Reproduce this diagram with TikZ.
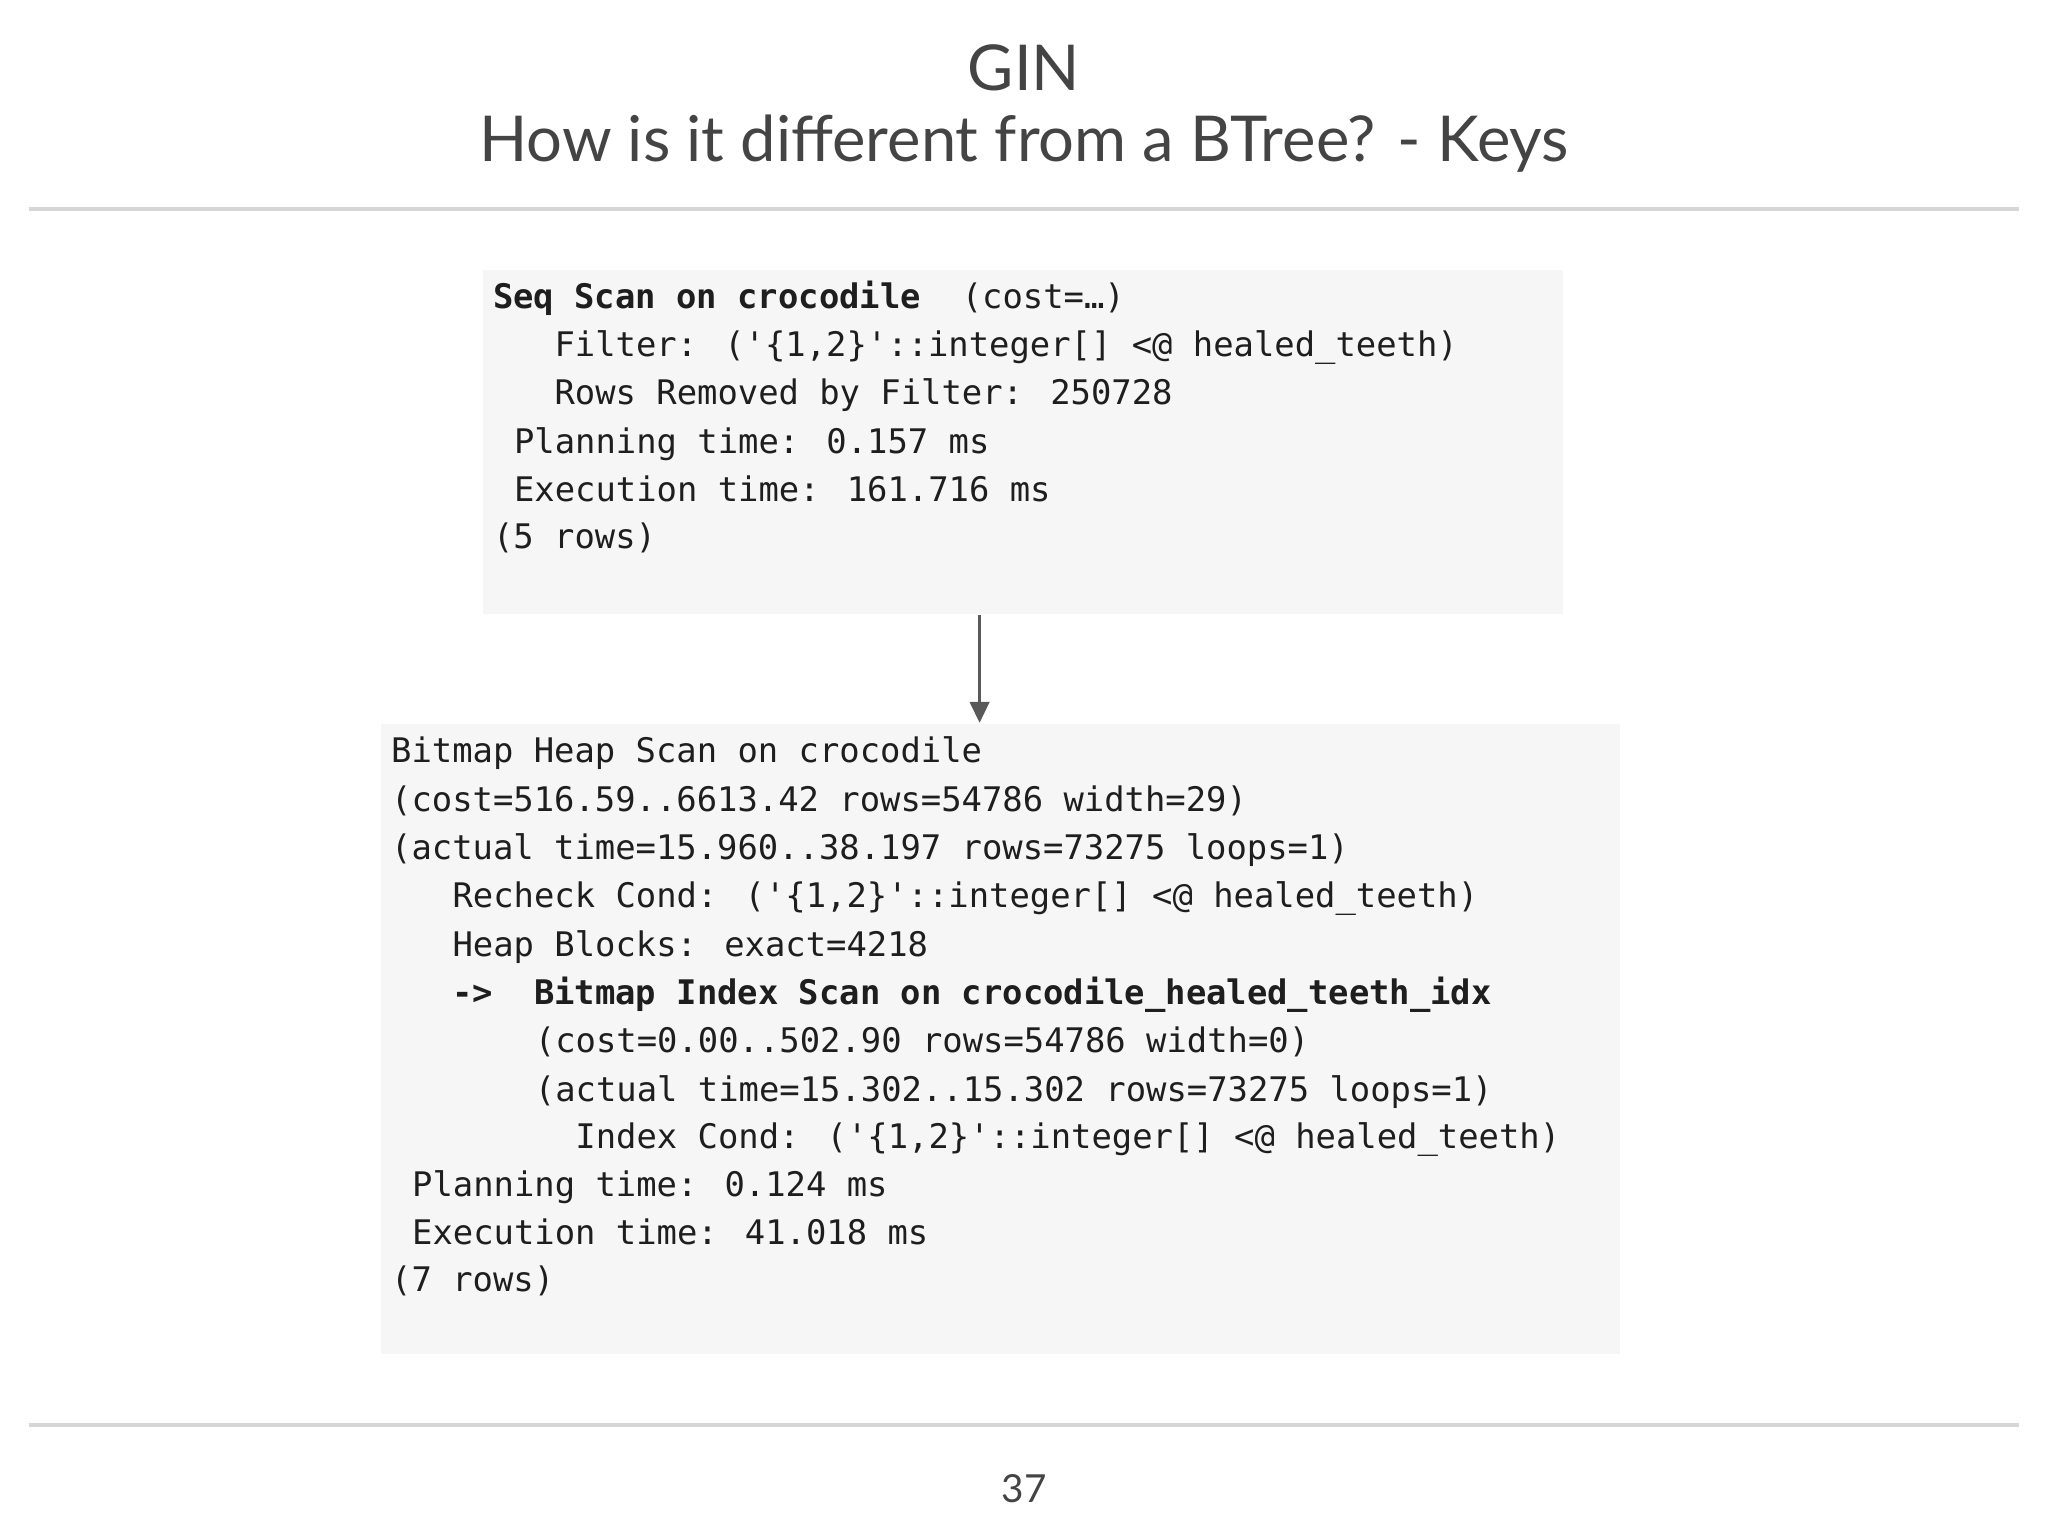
\documentclass[tikz,border=0pt]{standalone}
\usepackage{fontspec}
\setmainfont{Lato}
\newfontfamily\mono{DejaVu Sans Mono}
\usetikzlibrary{fit,arrows.meta}
\definecolor{boxbg}{HTML}{F6F6F6}
\definecolor{rulec}{HTML}{D6D6D6}
\definecolor{titlec}{HTML}{444444}
\definecolor{codec}{HTML}{1E1E1E}
\tikzset{
  box/.style={fill=boxbg,draw=none,inner sep=0pt},
  code/.style={anchor=base west,inner sep=0pt,font=\mono\fontsize{9.63}{11}\selectfont,text=codec},
  rulel/.style={draw=rulec,line width=0.9pt},
  arrowl/.style={draw=black!65,line width=1pt,-{Triangle[length=6pt,width=5.5pt]}}
}
\begin{document}
\begin{tikzpicture}[x=0.01306cm,y=-0.01306cm]
\useasboundingbox[fill=white] (0,0) rectangle (1568,1176);
\node[text=titlec,font=\fontsize{18}{20}\selectfont] (title) at (784,52) {GIN};
\node[text=titlec,font=\fontsize{18}{20}\selectfont] (sub) at (784,110) {How is it different from a BTree? - Keys};
\coordinate (r1a) at (22,160); \coordinate (r1b) at (1546,160);
\draw[rulel] (r1a) -- (r1b);
\coordinate (r2a) at (22,1091); \coordinate (r2b) at (1546,1091);
\draw[rulel] (r2a) -- (r2b);
\node[text=titlec,font=\fontsize{11}{12}\selectfont] (pg) at (784,1140) {37};

\coordinate (b1a) at (370,207); \coordinate (b1b) at (1197,470);
\node[box,fit=(b1a)(b1b)] (box1) {};
\coordinate (b2a) at (292,554); \coordinate (b2b) at (1240,1037);
\node[box,fit=(b2a)(b2b)] (box2) {};
\coordinate (ax) at (750,0);
\draw[arrowl] (box1.south -| ax) -- (box2.north -| ax);

\node[code] (l1) at (377,236) {\textbf{Seq Scan on crocodile}\ \ (cost=…)};
\node[code] (l2) at (424,273) {Filter: ('\{1,2\}'::integer[] <@ healed\_teeth)};
\node[code] (l3) at (424,310) {Rows Removed by Filter: 250728};
\node[code] (l4) at (393,347) {Planning time: 0.157 ms};
\node[code] (l5) at (393,384) {Execution time: 161.716 ms};
\node[code] (l6) at (377,420) {(5 rows)};

\node[code] (m0) at (299,584) {Bitmap Heap Scan on crocodile};
\node[code] (m1) at (299,621) {(cost=516.59..6613.42 rows=54786 width=29)};
\node[code] (m2) at (299,658) {(actual time=15.960..38.197 rows=73275 loops=1)};
\node[code] (m3) at (346,695) {Recheck Cond: ('\{1,2\}'::integer[] <@ healed\_teeth)};
\node[code] (m4) at (346,732) {Heap Blocks: exact=4218};
\node[code] (m5) at (346,769) {\textbf{->\ \ Bitmap Index Scan on crocodile\_healed\_teeth\_idx}};
\node[code] (m6) at (409,806) {(cost=0.00..502.90 rows=54786 width=0)};
\node[code] (m7) at (409,843) {(actual time=15.302..15.302 rows=73275 loops=1)};
\node[code] (m8) at (440,879) {Index Cond: ('\{1,2\}'::integer[] <@ healed\_teeth)};
\node[code] (m9) at (315,916) {Planning time: 0.124 ms};
\node[code] (m10) at (315,953) {Execution time: 41.018 ms};
\node[code] (m11) at (299,989) {(7 rows)};
\end{tikzpicture}
\end{document}
